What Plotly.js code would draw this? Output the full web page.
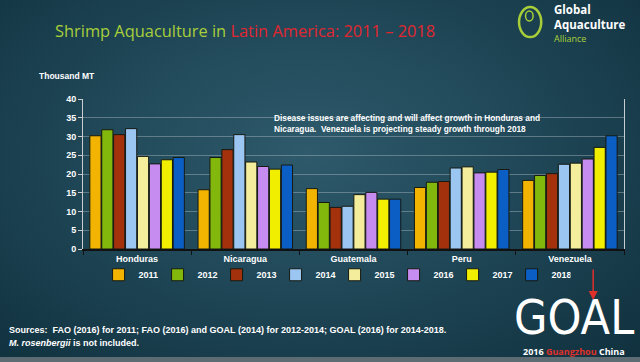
<!DOCTYPE html>
<html>
<head>
<meta charset="utf-8">
<script src="https://cdn.plot.ly/plotly-3.0.1.min.js"></script>
<style>
html,body{margin:0;padding:0;width:640px;height:362px;overflow:hidden;}
body{background:radial-gradient(ellipse at 48% 42%, #2e5a6b 0%, #204858 45%, #10303d 100%);}
#band{position:absolute;left:0;top:357px;width:640px;height:5px;background:#5d6c72;}
#chart{position:absolute;left:0;top:0;width:640px;height:362px;}
</style>
</head>
<body>
<div id="band"></div>
<div id="chart"></div>
<script>
const countries = ["Honduras", "Nicaragua", "Guatemala", "Peru", "Venezuela"];
const years = ["2011", "2012", "2013", "2014", "2015", "2016", "2017", "2018"];
const v2011 = [30.2, 15.8, 16.1, 16.4, 18.3];
const v2012 = [31.8, 24.4, 12.4, 17.8, 19.6];
const v2013 = [30.5, 26.5, 11.1, 18.0, 20.1];
const v2014 = [32.1, 30.5, 11.4, 21.6, 22.6];
const v2015 = [24.7, 23.2, 14.5, 21.9, 22.9];
const v2016 = [22.7, 22.0, 15.1, 20.3, 24.0];
const v2017 = [23.8, 21.3, 13.3, 20.5, 27.1];
const v2018 = [24.4, 22.4, 13.3, 21.2, 30.2];
const seriesValues = [v2011, v2012, v2013, v2014, v2015, v2016, v2017, v2018];
const colors = ["#f2b400", "#82b80c", "#a3320c", "#9cc6f2", "#f4ee9c", "#c78cf0", "#f2ee00", "#0b5ec4"];
const yTicks = [0, 5, 10, 15, 20, 25, 30, 35, 40];

const traces = years.map((y, i) => ({
  type: "bar",
  name: y,
  x: countries,
  y: seriesValues[i],
  marker: {color: colors[i], line: {color: "#161a12", width: 1}},
  hoverinfo: "x+y+name"
}));

const bold = "Arial, 'Liberation Sans', sans-serif";
const narrow = "'Liberation Sans Narrow', 'Arial Narrow', Arial, sans-serif";
const layout = {
  width: 640, height: 362,
  paper_bgcolor: "rgba(0,0,0,0)",
  plot_bgcolor: "rgba(0,0,0,0)",
  margin: {l: 83, r: 16, t: 99, b: 113},
  barmode: "group",
  bargap: 0.12,
  bargroupgap: 0.06,
  showlegend: true,
  legend: {
    orientation: "h", x: 0.465, xanchor: "center", y: -0.075, yanchor: "top",
    font: {family: bold, size: 9, color: "#ffffff", weight: "bold"},
    bgcolor: "rgba(0,0,0,0)", itemwidth: 30, entrywidth: 14, traceorder: "normal"
  },
  xaxis: {
    type: "category",
    tickfont: {family: bold, size: 9, color: "#ffffff", weight: "bold"},
    ticks: "outside", tickson: "boundaries", ticklen: 4, tickcolor: "#111111",
    showline: true, linecolor: "#111111", linewidth: 2,
    mirror: false, showgrid: false, zeroline: false
  },
  yaxis: {
    range: [0, 40], tickvals: yTicks, ticktext: yTicks.map(String),
    tickfont: {family: bold, size: 9, color: "#ffffff", weight: "bold"},
    ticks: "outside", ticklen: 4, tickcolor: "#c8ced0",
    showline: true, linecolor: "#c8ced0", linewidth: 1, mirror: true,
    showgrid: true, gridcolor: "rgba(170,185,192,0.45)", gridwidth: 1,
    zeroline: false
  },
  annotations: [
    {xref: "paper", yref: "paper", x: -0.085, y: 1.155, xanchor: "left", yanchor: "middle",
     text: "<b>Thousand MT</b>", showarrow: false,
     font: {family: bold, size: 8.5, color: "#ffffff"}},
    {xref: "paper", yref: "paper", x: 0.35, y: 0.92, xanchor: "left", yanchor: "top", align: "left",
     text: "<b>Disease issues are affecting and will affect growth in Honduras and<br>Nicaragua.  Venezuela is projecting steady growth through 2018</b>",
     showarrow: false, font: {family: bold, size: 8.3, color: "#ffffff"}},
    {xref: "paper", yref: "paper", x: -0.056, y: 1.46, xanchor: "left", yanchor: "middle",
     text: "<span style='color:#a8cf3a'>Shrimp Aquaculture in </span><span style='color:#e2262f'>Latin America: 2011 \u2013 2018</span>",
     showarrow: false, font: {family: "'Open Sans', sans-serif", size: 16.4}},
    {xref: "paper", yref: "paper", x: -0.14, y: -0.54, xanchor: "left", yanchor: "middle", align: "left",
     text: "<b>Sources:  FAO (2016) for 2011; FAO (2016) and GOAL (2014) for 2012-2014; GOAL (2016) for 2014-2018.</b>",
     showarrow: false, font: {family: narrow, size: 9, color: "#ffffff"}},
    {xref: "paper", yref: "paper", x: -0.14, y: -0.627, xanchor: "left", yanchor: "middle", align: "left",
     text: "<b><i>M. rosenbergii</i> is not included.</b>",
     showarrow: false, font: {family: narrow, size: 9, color: "#ffffff"}},
    {xref: "paper", yref: "paper", x: 0.908, y: -0.45, xanchor: "center", yanchor: "middle",
     text: "GOAL", showarrow: false,
     font: {family: "'DejaVu Sans Condensed', 'DejaVu Sans', sans-serif", size: 48, color: "#ffffff", weight: 200}},
    {xref: "paper", yref: "paper", x: 0.943, y: -0.34, ax: 0, ay: -32,
     text: "", showarrow: true, arrowhead: 2, arrowsize: 1.2, arrowwidth: 1.5, arrowcolor: "#e0302a"},
    {xref: "paper", yref: "paper", x: 0.908, y: -0.68, xanchor: "center", yanchor: "middle",
     text: "<b>2016 <span style='color:#e0302a'>Guangzhou</span> China</b>", showarrow: false,
     font: {family: "'Open Sans', sans-serif", size: 9, color: "#ffffff"}},
    {xref: "paper", yref: "paper", x: 0.868, y: 1.55, xanchor: "left", yanchor: "middle", align: "left",
     text: "<b>Global<br>Aquaculture</b>", showarrow: false, borderpad: 0,
     font: {family: "'Open Sans', sans-serif", size: 11.5, color: "#ffffff"}},
    {xref: "paper", yref: "paper", x: 0.868, y: 1.405, xanchor: "left", yanchor: "middle",
     text: "Alliance", showarrow: false, borderpad: 0,
     font: {family: "'Open Sans', sans-serif", size: 9, color: "#a8cf3a"}}
  ],
  shapes: [
    {type: "circle", xref: "paper", yref: "paper", x0: 0.806, x1: 0.847, y0: 1.413, y1: 1.613,
     line: {color: "#a8cf3a", width: 2.5}},
    {type: "circle", xref: "paper", yref: "paper", x0: 0.818, x1: 0.832, y0: 1.52, y1: 1.587,
     line: {color: "#a8cf3a", width: 1.5}}
  ]
};

Plotly.newPlot("chart", traces, layout, {displayModeBar: false, staticPlot: true});
</script>
</body>
</html>
